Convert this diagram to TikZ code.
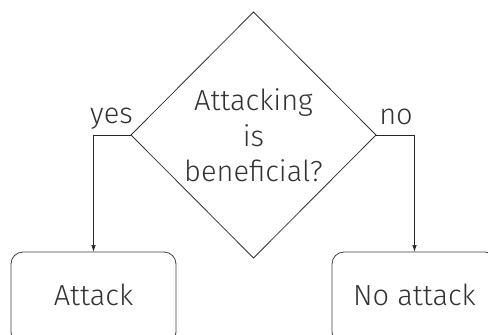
\documentclass[tikz,border=0pt]{standalone}
\usepackage{fontspec}
\setmainfont{Fira Sans Light}
\usetikzlibrary{shapes.geometric,arrows.meta}
\begin{document}
\begin{tikzpicture}[x=1pt,y=-1pt,
  font=\fontsize{29}{35.5}\selectfont,
  decision/.style={draw=black!80,line width=0.8pt,shape=diamond,aspect=1,
    minimum width=245pt,minimum height=246pt,inner sep=0pt,outer sep=0pt},
  outcome/.style={draw=black!75,line width=0.8pt,rounded corners=12pt,
    minimum width=165pt,minimum height=92pt,inner sep=0pt,outer sep=0pt,
    text depth=7pt,text=black!80},
  label/.style={text=black!80,anchor=base,inner sep=0pt},
  link/.style={draw=black!85,line width=0.7pt,-{Latex[length=7pt,width=4.5pt]}}]
  \clip (0,0) rectangle (488,335);
  \useasboundingbox (0,0) rectangle (488,335);

  % decision diamond and its question
  \node[decision] (q) at (253.5,135) {};
  \node[text=black!80,align=center,inner sep=0pt] (qt) at (253.5,135.5)
    {Attacking\\is\\beneficial?};

  % the two outcomes
  \node[outcome] (atk) at (93.5,298) {Attack};
  \node[outcome] (noatk) at (414.5,298) {No attack};

  % branches
  \draw[link] (q.west) -| (atk.north);
  \draw[link] (q.east) -| (noatk.north);
  \node[label] (yes) at (111.5,123) {yes};
  \node[label] (no) at (396,124) {no};
\end{tikzpicture}
\end{document}
